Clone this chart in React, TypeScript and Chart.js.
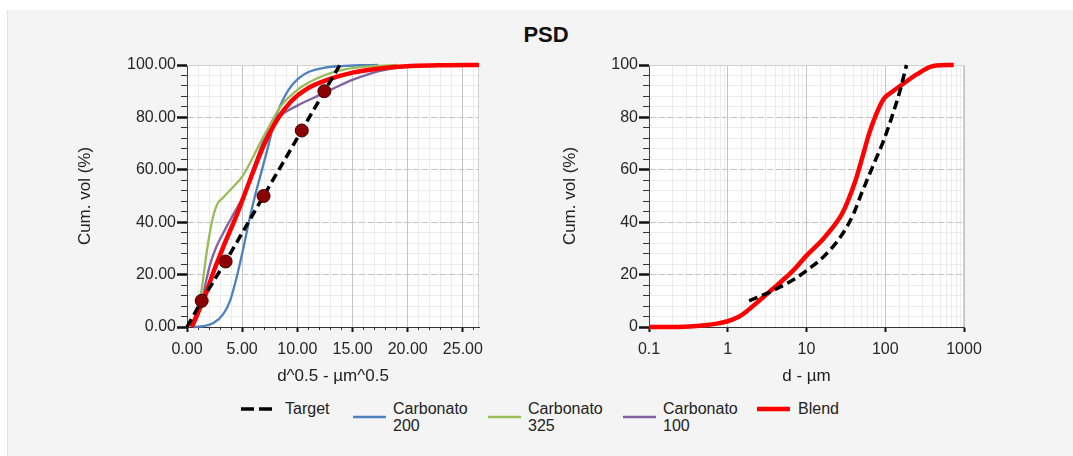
import React, { useEffect, useRef } from "react";
import { Chart, registerables } from "chart.js";

Chart.register(...registerables);

// ---------- DATA ----------
// Left chart: x = d^0.5 (µm^0.5), y = cumulative volume (%)
const LEFT_X_MAX = 26.46;
const TARGET_SQRT_X = [0, 1.33, 3.5, 6.94, 10.4, 12.45, 13.85];
const TARGET_SQRT_Y = [0, 10, 25, 50, 75, 90, 100];
const MARKER_X = [1.33, 3.5, 6.94, 10.4, 12.45];
const MARKER_Y = [10, 25, 50, 75, 90];

const C200_X = [0.6, 1.5, 2.4, 3.3, 3.9, 4.5, 5.1, 5.6, 6.1, 6.6, 7.3, 7.9, 8.5, 9.2, 10.0, 11.0, 12.5, 14.0, 15.7, 17.3];
const C200_Y = [0, 0.3, 1.5, 5, 10, 19, 30, 40, 49, 57, 68, 78, 85, 90.5, 94.5, 97.3, 99, 99.6, 99.9, 100];

const C325_X = [0.55, 1.0, 1.35, 1.8, 2.25, 2.7, 3.3, 4.2, 5.1, 5.7, 6.6, 7.5, 8.45, 9.7, 10.9, 12.4, 14.5, 16.9, 19.0];
const C325_Y = [0, 7, 15, 29, 40, 46.5, 49.5, 53.5, 58, 62.5, 70, 77, 84, 89.5, 93, 96, 98.5, 99.6, 100];

const C100_X = [0.58, 1.2, 1.6, 2.1, 2.7, 3.3, 4.2, 5.1, 6.0, 6.9, 7.85, 8.75, 10.0, 11.5, 13.0, 15.1, 17.5, 20.3, 23.0];
const C100_Y = [0, 7, 15, 24, 31, 36, 43, 50, 60.5, 70.5, 77.5, 81.5, 84.5, 87.5, 90.5, 94.5, 97.8, 99.5, 100];

const BLEND_SQRT_X = [0.4, 0.9, 1.5, 2.4, 3.3, 4.5, 5.7, 6.9, 8.15, 9.4, 10.9, 12.7, 15.1, 17.5, 20.3, 23.5, 26.46];
const BLEND_SQRT_Y = [0, 4.6, 10.3, 21, 30.7, 42.7, 56, 68.8, 79, 86, 91, 94.3, 97.2, 98.7, 99.6, 99.9, 100];

// Right chart: x = d (µm, log), y = cumulative volume (%)
const RIGHT_X_TICKS = [0.1, 1, 10, 100, 1000];
const TARGET_D = [1.87, 3.8, 6.8, 10, 16.7, 27.9, 40, 48.5, 71, 95, 127, 155, 186];
const TARGET_D_Y = [10, 14, 18, 21.5, 27, 35, 43.5, 50, 62, 71, 82, 90.5, 100];
const BLEND_D = [0.1, 0.2, 0.4, 0.7, 1.0, 1.4, 1.74, 2.5, 3.8, 5.5, 6.8, 10, 16.7, 27.9, 34, 42, 52, 62, 74, 95, 125, 155, 251, 409, 740];
const BLEND_D_Y = [0, 0, 0.4, 1.2, 2.2, 4, 6, 10, 14.75, 19, 21.6, 27.25, 34, 42.9, 48.5, 56, 65.5, 73.5, 80, 86.9, 90, 92, 96.4, 99.6, 100];

const LEGEND_LABELS = ["Target", "Carbonato\n200", "Carbonato\n325", "Carbonato\n100", "Blend"];

// ---------- STYLE ----------
const FONT = "'Liberation Sans', Arial, sans-serif";
const COLORS = { target: "#000000", c200: "#4f81bd", c325: "#9bbb59", c100: "#8064a2", blend: "#ff0000" };
const TEXT = "#262626";

const pts = (xs: number[], ys: number[]) => xs.map((x, i) => ({ x, y: ys[i] }));

const areaPlugin = {
  id: "areaBg",
  beforeDraw(chart: any) {
    const { ctx, chartArea } = chart;
    if (!chartArea) return;
    ctx.save();
    ctx.fillStyle = "#ffffff";
    ctx.fillRect(chartArea.left, chartArea.top, chartArea.right - chartArea.left, chartArea.bottom - chartArea.top);
    ctx.restore();
  },
  beforeDatasetsDraw(chart: any) {
    const { ctx, chartArea } = chart;
    const { left, top, right, bottom } = chartArea;
    ctx.save();
    ctx.strokeStyle = "#d2d2d2";
    ctx.lineWidth = 1;
    ctx.beginPath();
    ctx.moveTo(left, top + 0.5);
    ctx.lineTo(right - 0.5, top + 0.5);
    ctx.lineTo(right - 0.5, bottom);
    ctx.stroke();
    ctx.restore();
  },
};

function yScales(yAxisWidth: number, titlePad: number, decimals: number) {
  return {
    y: {
      type: "linear",
      position: "left",
      weight: 1,
      min: 0,
      max: 100,
      ticks: {
        stepSize: 20,
        callback: (v: any) => Number(v).toFixed(decimals),
        font: { family: FONT, size: 16 },
        color: TEXT,
        padding: 1,
      },
      grid: { color: "#c4c4c4", lineWidth: 1, tickColor: "#111", tickLength: 10, tickWidth: 2.5, z: -1 },
      border: { color: "#444", width: 1, dash: [6, 3] },
      title: {
        display: true,
        text: "Cum. vol (%)",
        font: { family: FONT, size: 17 },
        color: "#222",
        padding: { top: titlePad, bottom: 0 },
      },
      afterFit: (s: any) => {
        s.width = yAxisWidth;
      },
    },
    yMinor: {
      type: "linear",
      position: "left",
      weight: 0,
      min: 0,
      max: 100,
      ticks: { display: false, stepSize: 4 },
      grid: { color: "#ececec", lineWidth: 1, tickColor: "#333", tickLength: 6, tickWidth: 1, z: -2 },
      border: { display: false },
      afterFit: (s: any) => {
        s.width = 0;
      },
    },
  };
}

function LeftChart() {
  const ref = useRef<HTMLCanvasElement>(null);
  useEffect(() => {
    const chart = new Chart(ref.current as HTMLCanvasElement, {
      type: "line",
      data: {
        datasets: [
          {
            label: "markers",
            data: pts(MARKER_X, MARKER_Y),
            showLine: false,
            pointRadius: 6.5,
            pointBackgroundColor: "#8b0000",
            pointBorderColor: "#3d0000",
            pointBorderWidth: 1,
            order: 0,
          },
          {
            label: "Target",
            data: pts(TARGET_SQRT_X, TARGET_SQRT_Y),
            borderColor: COLORS.target,
            borderWidth: 3.5,
            borderDash: [9, 5],
            pointRadius: 0,
            tension: 0,
            order: 1,
          },
          {
            label: "Blend",
            data: pts(BLEND_SQRT_X, BLEND_SQRT_Y),
            borderColor: COLORS.blend,
            borderWidth: 4.5,
            pointRadius: 0,
            cubicInterpolationMode: "monotone",
            order: 2,
          },
          {
            label: "Carbonato 100",
            data: pts(C100_X, C100_Y),
            borderColor: COLORS.c100,
            borderWidth: 2.3,
            pointRadius: 0,
            cubicInterpolationMode: "monotone",
            order: 3,
          },
          {
            label: "Carbonato 325",
            data: pts(C325_X, C325_Y),
            borderColor: COLORS.c325,
            borderWidth: 2.3,
            pointRadius: 0,
            cubicInterpolationMode: "monotone",
            order: 4,
          },
          {
            label: "Carbonato 200",
            data: pts(C200_X, C200_Y),
            borderColor: COLORS.c200,
            borderWidth: 2.3,
            pointRadius: 0,
            cubicInterpolationMode: "monotone",
            order: 5,
          },
        ],
      },
      options: {
        animation: false,
        responsive: false,
        events: [],
        clip: 6,
        layout: { padding: { top: 15, right: 21, left: 0, bottom: 0 } },
        plugins: { legend: { display: false }, tooltip: { enabled: false }, title: { display: false } },
        scales: {
          x: {
            type: "linear",
            position: "bottom",
            weight: 1,
            min: 0,
            max: LEFT_X_MAX,
            ticks: {
              stepSize: 5,
              includeBounds: false,
              callback: (v: any) => Number(v).toFixed(2),
              font: { family: FONT, size: 16 },
              color: TEXT,
              padding: 8,
              maxRotation: 0,
              autoSkip: false,
            },
            grid: { color: "#c4c4c4", lineWidth: 1, tickColor: "#111", tickLength: 5, tickWidth: 2, z: -1 },
            border: { color: "#333", width: 1 },
            title: {
              display: true,
              text: "d^0.5 - µm^0.5",
              font: { family: FONT, size: 17 },
              color: "#222",
              padding: { top: 0, bottom: 13 },
            },
            afterFit: (s: any) => {
              s.height = 73;
            },
          },
          xMinor: {
            type: "linear",
            position: "bottom",
            weight: 0,
            min: 0,
            max: LEFT_X_MAX,
            ticks: { display: false, stepSize: 1, includeBounds: false },
            grid: { color: "#ececec", lineWidth: 1, tickColor: "#333", tickLength: 3, tickWidth: 1, z: -2 },
            border: { display: false },
            afterFit: (s: any) => {
              s.height = 0;
            },
          },
          ...yScales(127, 15, 2),
        } as any,
      } as any,
      plugins: [areaPlugin],
    } as any);
    return () => chart.destroy();
  }, []);
  return <canvas ref={ref} width={440} height={350} style={{ position: "absolute", left: 60, top: 50, width: 440, height: 350 }} />;
}

function RightChart() {
  const ref = useRef<HTMLCanvasElement>(null);
  useEffect(() => {
    const chart = new Chart(ref.current as HTMLCanvasElement, {
      type: "line",
      data: {
        datasets: [
          {
            label: "Target",
            data: pts(TARGET_D, TARGET_D_Y),
            borderColor: COLORS.target,
            borderWidth: 3.5,
            borderDash: [9, 5],
            pointRadius: 0,
            cubicInterpolationMode: "monotone",
            order: 1,
          },
          {
            label: "Blend",
            data: pts(BLEND_D, BLEND_D_Y),
            borderColor: COLORS.blend,
            borderWidth: 4.5,
            pointRadius: 0,
            cubicInterpolationMode: "monotone",
            order: 2,
          },
        ],
      },
      options: {
        animation: false,
        responsive: false,
        events: [],
        clip: 6,
        layout: { padding: { top: 15, right: 36, left: 0, bottom: 0 } },
        plugins: { legend: { display: false }, tooltip: { enabled: false }, title: { display: false } },
        scales: {
          x: {
            type: "logarithmic",
            position: "bottom",
            weight: 1,
            min: 0.1,
            max: 1000,
            afterBuildTicks: (s: any) => {
              s.ticks = RIGHT_X_TICKS.map((v) => ({ value: v }));
            },
            ticks: {
              callback: (v: any) => String(v),
              font: { family: FONT, size: 16 },
              color: TEXT,
              padding: 8,
              maxRotation: 0,
              autoSkip: false,
            },
            grid: { color: "#c4c4c4", lineWidth: 1, tickColor: "#111", tickLength: 5, tickWidth: 2, z: -1 },
            border: { color: "#333", width: 1 },
            title: {
              display: true,
              text: "d - µm",
              font: { family: FONT, size: 17 },
              color: "#222",
              padding: { top: 0, bottom: 13 },
            },
            afterFit: (s: any) => {
              s.height = 73;
            },
          },
          xMinor: {
            type: "logarithmic",
            position: "bottom",
            weight: 0,
            min: 0.1,
            max: 1000,
            ticks: { display: false, autoSkip: false },
            grid: { color: "#ececec", lineWidth: 1, drawTicks: false, z: -2 },
            border: { display: false },
            afterFit: (s: any) => {
              s.height = 0;
            },
          },
          ...yScales(119, 30, 0),
        } as any,
      } as any,
      plugins: [areaPlugin],
    } as any);
    return () => chart.destroy();
  }, []);
  return <canvas ref={ref} width={470} height={350} style={{ position: "absolute", left: 530, top: 50, width: 470, height: 350 }} />;
}

const LEGEND_STYLE = [
  { color: COLORS.target, width: 3.5, dash: "13 5", sampleLeft: 241, textLeft: 285 },
  { color: COLORS.c200, width: 2.3, dash: "", sampleLeft: 353, textLeft: 393 },
  { color: COLORS.c325, width: 2.3, dash: "", sampleLeft: 488, textLeft: 528 },
  { color: COLORS.c100, width: 2.3, dash: "", sampleLeft: 623, textLeft: 663 },
  { color: COLORS.blend, width: 4.5, dash: "", sampleLeft: 757, textLeft: 798 },
];

function Legend() {
  return (
    <>
      {LEGEND_LABELS.map((label, i) => {
        const st = LEGEND_STYLE[i];
        const sw = 33;
        return (
          <div
            key={label}
            style={{
              position: "absolute",
              left: st.sampleLeft,
              top: 400,
              display: "flex",
              alignItems: "center",
              gap: st.textLeft - st.sampleLeft - sw,
            }}
          >
            <svg width={sw} height={8} style={{ display: "block" }}>
              <line
                x1={0}
                y1={4}
                x2={sw}
                y2={4}
                stroke={st.color}
                strokeWidth={st.width}
                strokeDasharray={st.dash || undefined}
              />
            </svg>
            <div
              style={{
                fontFamily: FONT,
                fontSize: 16,
                lineHeight: "17px",
                color: "#222",
                whiteSpace: "pre-line",
              }}
            >
              {label}
            </div>
          </div>
        );
      })}
    </>
  );
}

export default function App() {
  return (
    <div style={{ position: "absolute", left: 0, top: 0, width: 1073, height: 456, background: "#ffffff", overflow: "hidden" }}>
      <div
        style={{
          position: "absolute",
          left: 7,
          top: 10,
          width: 1066,
          height: 446,
          background: "#f4f4f4",
          borderLeft: "1px solid #e2e2e2",
          boxSizing: "border-box",
        }}
      />
      <div
        style={{
          position: "absolute",
          left: 546,
          top: 22,
          transform: "translateX(-50%)",
          fontFamily: FONT,
          fontWeight: "bold",
          fontSize: 22,
          lineHeight: "26px",
          color: "#111",
        }}
      >
        PSD
      </div>
      <LeftChart />
      <RightChart />
      <Legend />
    </div>
  );
}
